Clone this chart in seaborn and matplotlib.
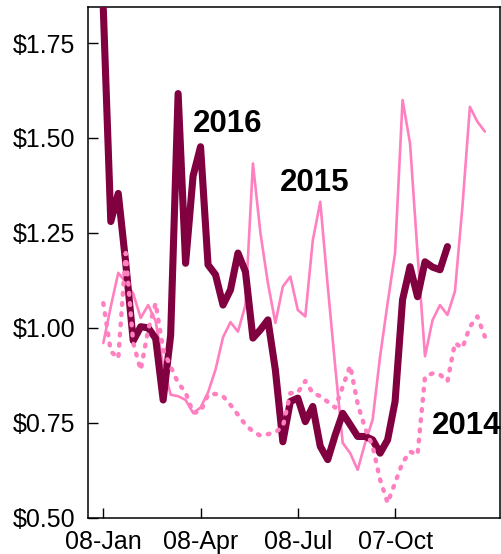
#!/usr/bin/env python3
"""Weekly price per year, 2014-2016, recreated with seaborn."""

import matplotlib
matplotlib.use("Agg")
import matplotlib.dates as mdates
import matplotlib.pyplot as plt
import matplotlib.ticker as mticker
import numpy as np
import pandas as pd
import seaborn as sns

# weekly values (week 0 = 08-Jan)
price_2016 = [1.84, 1.28, 1.354, 1.17, 0.966, 1.003, 1.0, 0.972, 0.81, 0.98,
              1.617, 1.17, 1.40, 1.477, 1.166, 1.14, 1.06, 1.10, 1.197, 1.148,
              0.973, 0.995, 1.021, 0.889, 0.70, 0.806, 0.815, 0.753, 0.793, 0.688,
              0.653, 0.718, 0.775, 0.745, 0.714, 0.714, 0.705, 0.67, 0.705, 0.806,
              1.074, 1.161, 1.082, 1.174, 1.16, 1.153, 1.214]
price_2015 = [0.96, 1.056, 1.145, 1.12, 1.09, 1.026, 1.06, 1.017, 0.90, 0.824,
              0.82, 0.81, 0.776, 0.79, 0.83, 0.89, 0.975, 1.015, 0.99, 1.06,
              1.433, 1.25, 1.118, 1.013, 1.109, 1.135, 1.047, 1.03, 1.23, 1.332,
              1.11, 0.898, 0.697, 0.67, 0.626, 0.697, 0.758, 0.925, 1.065, 1.197,
              1.60, 1.486, 1.197, 0.925, 1.02, 1.06, 1.034, 1.096, 1.319, 1.582,
              1.543, 1.517]
price_2014 = [1.065, 0.938, 0.92, 1.197, 0.96, 0.889, 0.995, 1.065, 0.942, 0.898,
              0.855, 0.83, 0.776, 0.78, 0.824, 0.826, 0.82, 0.797, 0.771, 0.745,
              0.727, 0.716, 0.72, 0.725, 0.74, 0.828, 0.83, 0.86, 0.828, 0.82,
              0.805, 0.79, 0.845, 0.90, 0.80, 0.735, 0.688, 0.60, 0.539, 0.592,
              0.645, 0.674, 0.666, 0.872, 0.88, 0.877, 0.859, 0.96, 0.947, 1.003,
              1.03, 0.977]
year_labels = ["2016", "2015", "2014"]

weeks = pd.date_range("2016-01-08", periods=52, freq="7D")

PINK = "#ff80c0"
DARK = "#800040"

sns.set_style("ticks")
plt.rcParams["font.family"] = ["Liberation Sans", "DejaVu Sans"]

fig = plt.figure(figsize=(5.02, 5.54), dpi=100)
ax = fig.add_axes([0.1747, 0.0655, 0.9952 - 0.1747, 0.9874 - 0.0655])

sns.lineplot(x=weeks[:len(price_2015)], y=price_2015, ax=ax, color=PINK,
             linewidth=1.9, zorder=2)
sns.lineplot(x=weeks[:len(price_2016)], y=price_2016, ax=ax, color=DARK,
             linewidth=5.1, solid_capstyle="round", solid_joinstyle="round",
             zorder=3)
sns.lineplot(x=weeks[:len(price_2014)], y=price_2014, ax=ax, color=PINK,
             linewidth=3.2, linestyle=(0, (0.4, 1.9)), dash_capstyle="round",
             zorder=4)

# year labels
start = weeks[0]
label_pos = [(16.6, 1.537), (28.3, 1.382), (48.6, 0.742)]
for text, (wk, val) in zip(year_labels, label_pos):
    ax.text(start + pd.Timedelta(days=7 * wk), val, text, fontsize=22.5,
            fontweight="bold", ha="center", va="center", color="black",
            zorder=5)

ax.set_xlim(start - pd.Timedelta(days=14.6), start + pd.Timedelta(days=7 * 52.97))
ax.set_ylim(0.5, 1.845)

ax.set_xticks(weeks[::13][:4])
ax.xaxis.set_major_formatter(mdates.DateFormatter("%d-%b"))
ax.set_yticks(np.arange(0.5, 1.76, 0.25))
ax.yaxis.set_major_formatter(mticker.FuncFormatter(lambda v, _: f"${v:.2f}"))

ax.tick_params(direction="in", length=7, width=1, labelsize=18, colors="black")
ax.tick_params(axis="x", pad=8.5)
ax.tick_params(axis="y", pad=9)
for side in ["left", "right", "top", "bottom"]:
    ax.spines[side].set_visible(True)
    ax.spines[side].set_linewidth(1.1)
    ax.spines[side].set_color("black")
ax.set_xlabel("")
ax.set_ylabel("")

fig.savefig("out.png", dpi=100)
